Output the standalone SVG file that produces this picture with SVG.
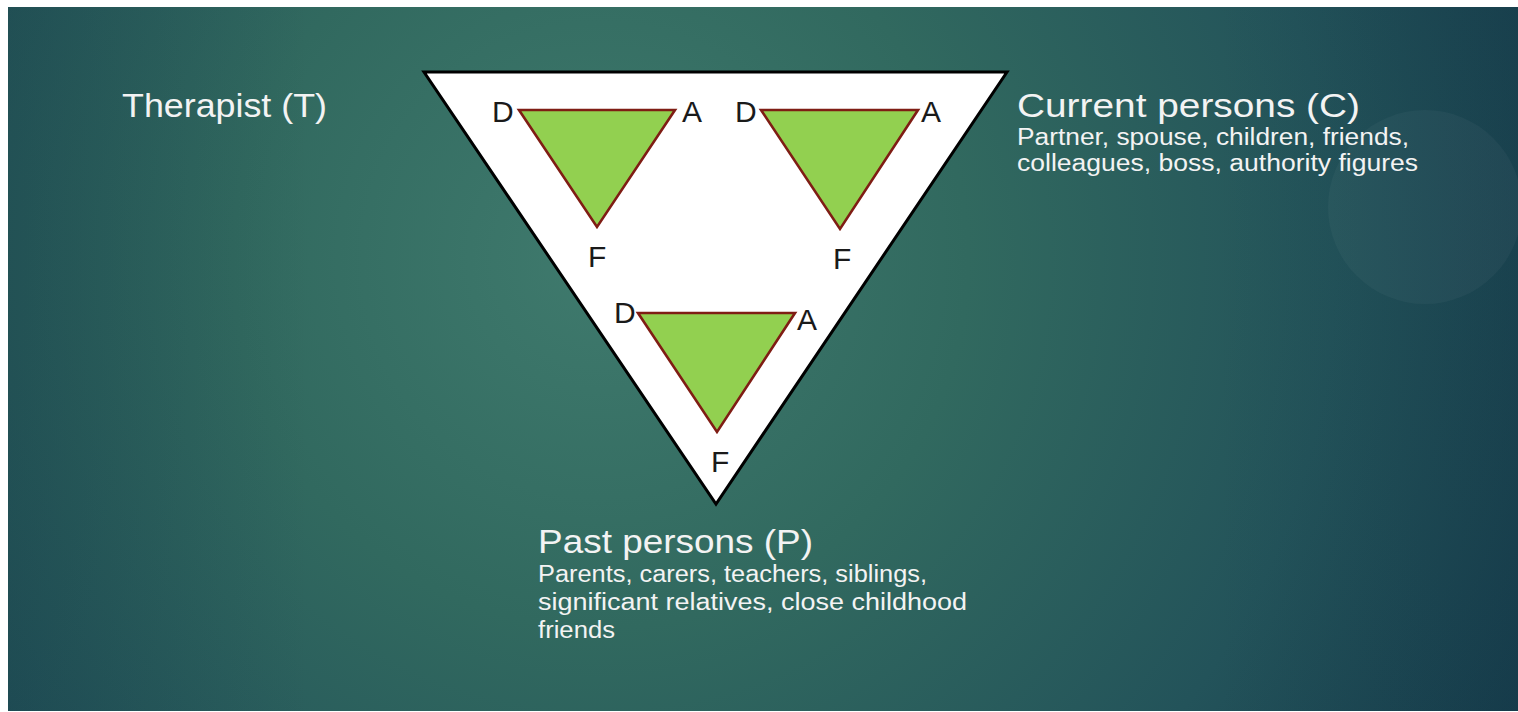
<svg xmlns="http://www.w3.org/2000/svg" width="1518" height="712" viewBox="0 0 1518 712">
<defs>
<radialGradient id="bg" gradientUnits="userSpaceOnUse" cx="600" cy="260" r="1050">
<stop offset="0" stop-color="#3f7a6d"/>
<stop offset="0.35" stop-color="#31695f"/>
<stop offset="0.7" stop-color="#23535a"/>
<stop offset="1" stop-color="#163b4c"/>
</radialGradient>
<linearGradient id="shade" x1="0" y1="0" x2="1" y2="0">
<stop offset="0" stop-color="#10333f" stop-opacity="0.25"/>
<stop offset="0.2" stop-color="#10333f" stop-opacity="0"/>
<stop offset="0.8" stop-color="#10333f" stop-opacity="0"/>
<stop offset="1" stop-color="#10333f" stop-opacity="0.2"/>
</linearGradient>
<style>
.big{fill:#ffffff;stroke:#000000;stroke-width:3;stroke-linejoin:miter}
.small{fill:#92d050;stroke:#7f1d14;stroke-width:2.6;stroke-linejoin:miter}
.lbl{font-family:"Liberation Sans",Arial,sans-serif;font-size:30px;fill:#1a1a1a}
.title{font-family:"Liberation Sans",Arial,sans-serif;font-size:34px;fill:#f3f3f3}
.sub{font-family:"Liberation Sans",Arial,sans-serif;font-size:23px;fill:#f3f3f3}
</style>
</defs>
<rect x="0" y="0" width="1518" height="712" fill="#ffffff"/>
<rect x="8" y="7" width="1510" height="704" fill="url(#bg)"/>
<rect x="8" y="7" width="1510" height="704" fill="url(#shade)"/>
<circle cx="1425" cy="207" r="97" fill="#ffffff" fill-opacity="0.035"/>

<g id="outer-triangle">
<polygon class="big" points="424,72 1007,72 716,504"/>
</g>

<g id="triangle-current-left">
<polygon class="small" points="519,110 675,110 597,227"/>
<text class="lbl" x="492" y="122">D</text>
<text class="lbl" x="682" y="122">A</text>
<text class="lbl" x="588" y="267">F</text>
</g>

<g id="triangle-current-right">
<polygon class="small" points="761,110 918,110 840,229"/>
<text class="lbl" x="735" y="122">D</text>
<text class="lbl" x="921" y="122">A</text>
<text class="lbl" x="833" y="269">F</text>
</g>

<g id="triangle-past">
<polygon class="small" points="638,313 795,313 717,432"/>
<text class="lbl" x="614" y="323">D</text>
<text class="lbl" x="797" y="330">A</text>
<text class="lbl" x="711" y="472">F</text>
</g>

<g id="therapist">
<text class="title" x="122" y="117" textLength="205" lengthAdjust="spacingAndGlyphs">Therapist (T)</text>
</g>

<g id="current-persons">
<text class="title" x="1017" y="117" textLength="343" lengthAdjust="spacingAndGlyphs">Current persons (C)</text>
<text class="sub" x="1017" y="145" textLength="392" lengthAdjust="spacingAndGlyphs">Partner, spouse, children, friends,</text>
<text class="sub" x="1017" y="171" textLength="401" lengthAdjust="spacingAndGlyphs">colleagues, boss, authority figures</text>
</g>

<g id="past-persons">
<text class="title" x="538" y="553" textLength="275" lengthAdjust="spacingAndGlyphs">Past persons (P)</text>
<text class="sub" x="538" y="582" textLength="389" lengthAdjust="spacingAndGlyphs">Parents, carers, teachers, siblings,</text>
<text class="sub" x="538" y="610" textLength="429" lengthAdjust="spacingAndGlyphs">significant relatives, close childhood</text>
<text class="sub" x="538" y="638" textLength="77" lengthAdjust="spacingAndGlyphs">friends</text>
</g>

<g id="connectors"></g>
</svg>
